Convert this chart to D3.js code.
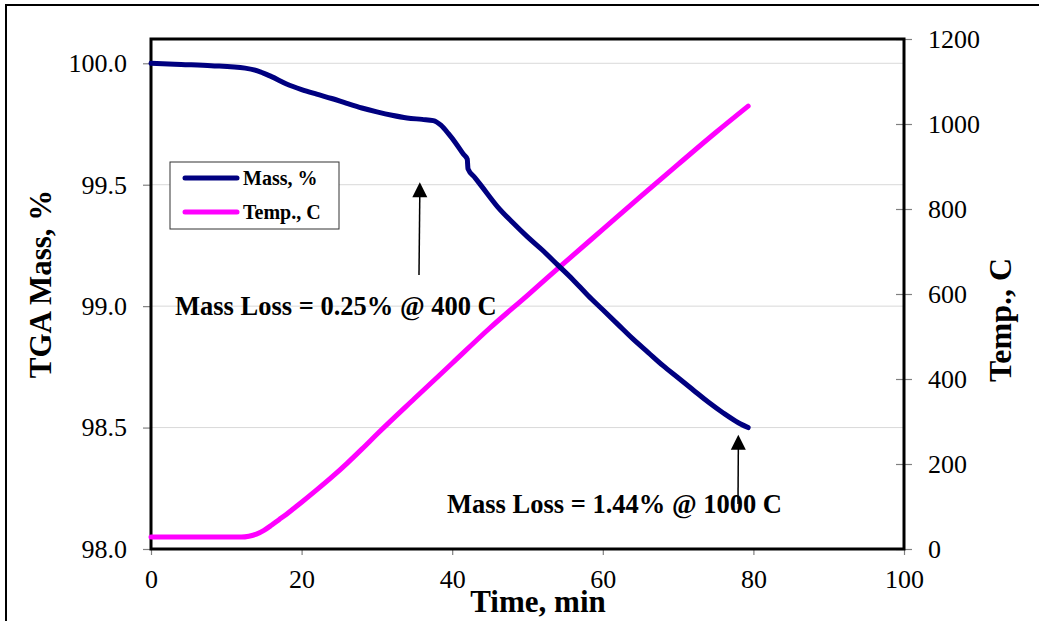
<!DOCTYPE html>
<html><head><meta charset="utf-8">
<script src="https://cdn.jsdelivr.net/npm/d3@7"></script>
<style>body{margin:0;background:#fff}svg{display:block}</style>
</head><body>
<script>
// ---- data ----
const massTime = [0, 4, 8, 12.5, 14.5, 16, 18, 20, 22, 24, 26, 28, 30, 32, 34, 36, 37.5, 38.5, 39.5, 40.5, 41.5, 42.0, 42.1, 43, 44, 46, 48, 50, 52, 54, 56, 58, 60, 62, 64, 66, 68, 70, 72, 74, 76, 78, 79.3];
const massValues = [100.0, 99.995, 99.99, 99.98, 99.965, 99.945, 99.915, 99.892, 99.873, 99.855, 99.835, 99.816, 99.80, 99.786, 99.775, 99.769, 99.764, 99.745, 99.71, 99.67, 99.625, 99.605, 99.565, 99.53, 99.49, 99.41, 99.345, 99.285, 99.23, 99.17, 99.11, 99.045, 98.985, 98.925, 98.865, 98.81, 98.755, 98.705, 98.655, 98.605, 98.56, 98.52, 98.50];
const tempTime = [0, 5, 10, 12, 13, 14, 15, 16, 17, 18, 19, 20, 22, 24, 26, 28, 30, 35, 40, 45, 50, 55, 60, 65, 70, 75, 79.3];
const tempValues = [28, 28, 28, 28, 30, 35, 44, 56, 69, 82, 96, 110, 139, 169, 201, 235, 270, 354, 437, 520, 597, 675, 752, 829, 905, 980, 1042];
const xTicks = [0, 20, 40, 60, 80, 100];
const massTicks = [98.0, 98.5, 99.0, 99.5, 100.0];
const tempTicks = [0, 200, 400, 600, 800, 1000, 1200];
const seriesNames = ["Mass, %", "Temp., C"];
const annotations = [
  {text: "Mass Loss = 0.25% @ 400 C", t: 35.7, m: 99.51},
  {text: "Mass Loss = 1.44% @ 1000 C", t: 78.0, m: 98.47}
];

const W = 1039, H = 621;
const L = 151, R = 904, T = 39, B = 549;
const serif = "'Liberation Serif','Times New Roman',serif";

const svg = d3.select("body").append("svg").attr("width", W).attr("height", H);
svg.append("rect").attr("x", 6).attr("y", 5).attr("width", 1100).attr("height", 700)
  .attr("fill", "none").attr("stroke", "#000").attr("stroke-width", 2);

const x = d3.scaleLinear().domain([0, 100]).range([L, R]);
const yL = d3.scaleLinear().domain([98, 100.1]).range([B, T]);
const yR = d3.scaleLinear().domain([0, 1200]).range([B, T]);

// gridlines
svg.append("g").selectAll("line").data(massTicks.filter(d => d > 98)).join("line")
  .attr("x1", L).attr("x2", R).attr("y1", d => yL(d)).attr("y2", d => yL(d))
  .attr("stroke", "#d9d9d9").attr("stroke-width", 1);

// axes
const gL = svg.append("g").attr("transform", `translate(${L},0)`)
  .call(d3.axisLeft(yL).tickValues(massTicks).tickFormat(d3.format(".1f")).tickSize(8).tickPadding(16));
const gR = svg.append("g").attr("transform", `translate(${R},0)`)
  .call(d3.axisRight(yR).tickValues(tempTicks).tickFormat(d3.format("d")).tickSize(8).tickPadding(16));
gR.selectAll(".tick line").attr("x1", -8);
const gX = svg.append("g").attr("transform", `translate(0,${B})`)
  .call(d3.axisBottom(x).tickValues(xTicks).tickFormat(d3.format("d")).tickSize(6).tickPadding(15));
[gL, gR, gX].forEach(g => {
  g.attr("font-family", serif);
  g.select(".domain").remove();
  g.selectAll(".tick line").attr("stroke", "#808080").attr("stroke-width", 1.2);
  g.selectAll("text").attr("font-family", serif).attr("font-size", 26).attr("fill", "#000");
});

// plot frame
svg.append("rect").attr("x", L).attr("y", T).attr("width", R - L).attr("height", B - T)
  .attr("fill", "none").attr("stroke", "#000").attr("stroke-width", 3);

// lines
const massData = massTime.map((t, i) => [t, massValues[i]]);
const tempData = tempTime.map((t, i) => [t, tempValues[i]]);
svg.append("path").datum(tempData)
  .attr("d", d3.line().x(d => x(d[0])).y(d => yR(d[1])).curve(d3.curveMonotoneX))
  .attr("fill", "none").attr("stroke", "#ff00ff").attr("stroke-width", 5).attr("stroke-linecap", "round");
svg.append("path").datum(massData)
  .attr("d", d3.line().x(d => x(d[0])).y(d => yL(d[1])).curve(d3.curveMonotoneX))
  .attr("fill", "none").attr("stroke", "#000080").attr("stroke-width", 5).attr("stroke-linecap", "round");

// axis titles
svg.append("text").attr("transform", "translate(51,284) rotate(-90)").attr("text-anchor", "middle")
  .attr("font-family", serif).attr("font-weight", "bold").attr("font-size", 31).text("TGA Mass, %");
svg.append("text").attr("transform", "translate(1011,320) rotate(-90)").attr("text-anchor", "middle")
  .attr("font-family", serif).attr("font-weight", "bold").attr("font-size", 32).text("Temp., C");
svg.append("text").attr("x", 538).attr("y", 612).attr("text-anchor", "middle")
  .attr("font-family", serif).attr("font-weight", "bold").attr("font-size", 31).text("Time, min");

// legend
const lg = svg.append("g");
lg.append("rect").attr("x", 170).attr("y", 162).attr("width", 169).attr("height", 67)
  .attr("fill", "#fff").attr("stroke", "#333").attr("stroke-width", 1);
const legColors = ["#000080", "#ff00ff"];
seriesNames.forEach((n, i) => {
  const yy = 178 + i * 34;
  lg.append("line").attr("x1", 185).attr("x2", 237).attr("y1", yy).attr("y2", yy)
    .attr("stroke", legColors[i]).attr("stroke-width", 5).attr("stroke-linecap", "round");
  lg.append("text").attr("x", 243).attr("y", yy + 7).attr("font-family", serif)
    .attr("font-weight", "bold").attr("font-size", 20).text(n);
});

// annotations
const annText = [{x: 175, y: 315}, {x: 447, y: 513}];
const arrows = [{x1: 419, y1: 275}, {x1: 738, y1: 504}];
annotations.forEach((a, i) => {
  svg.append("text").attr("x", annText[i].x).attr("y", annText[i].y)
    .attr("font-family", serif).attr("font-weight", "bold").attr("font-size", 26.5).text(a.text);
  const tx = x(a.t), ty = yL(a.m);
  svg.append("line").attr("x1", arrows[i].x1).attr("y1", arrows[i].y1).attr("x2", tx).attr("y2", ty + 10)
    .attr("stroke", "#000").attr("stroke-width", 1.5);
  svg.append("path").attr("d", `M${tx},${ty} L${tx - 7.5},${ty + 15} L${tx + 7.5},${ty + 15} Z`).attr("fill", "#000");
});
</script>
</body></html>
